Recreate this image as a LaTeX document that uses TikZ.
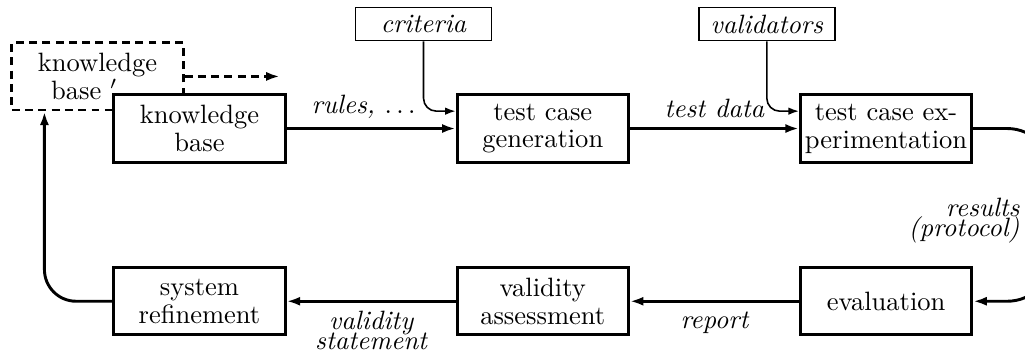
\documentclass[tikz,border=0pt]{standalone}
\usepackage{amsmath,amssymb}
\usetikzlibrary{positioning,arrows.meta}

\begin{document}
\begin{tikzpicture}[
        blk/.style={draw, line width=1.1pt, fill=white,
                    minimum width=2.27cm, minimum height=0.89cm,
                    inner sep=1.5pt, align=center},
        dblk/.style={blk, dash pattern=on 3pt off 2pt},
        src/.style={draw, line width=0.6pt, minimum width=1.8cm,
                    minimum height=0.44cm, inner sep=1pt, font=\itshape},
        arr/.style={-{Latex[length=1.8mm,width=1.2mm]}, line width=1.1pt},
        tarr/.style={-{Latex[length=1.4mm,width=1mm]}, line width=0.6pt,
                     rounded corners=0.17cm},
        lbl/.style={font=\itshape, align=center}
      ]
        \useasboundingbox (-2.643,1.703) rectangle (10.938,-2.975);
        % old knowledge base, behind the current one
        \node[dblk] (kbd) at (-1.35,0.69)
              {knowledge\\[-1.5pt]base\ $'$\hspace*{10pt}};
        \node[blk] (kb) at (0,0) {knowledge\\[-1.5pt]base};
        \node[blk, right=2.24cm of kb] (tcg)
              {test case\\[-1.5pt]generation};
        \node[blk, right=2.24cm of tcg] (tce)
              {test case ex-\\[-1.5pt]perimentation};
        \node[blk, below=1.36cm of tce] (ev) {evaluation};
        \node[blk, below=1.36cm of tcg] (va)
              {validity\\[-1.5pt]assessment};
        \node[blk, below=1.36cm of kb] (sr)
              {system\\[-1.5pt]refinement};
        \node[src, above=0.69cm of tcg, xshift=-1.58cm] (crit) {criteria};
        \node[src, above=0.69cm of tce, xshift=-1.58cm] (val) {validators};
        \coordinate[right=1.26cm of kbd.east] (kbout);
        % main cycle
        \draw[arr] (kb) -- node[lbl, above, xshift=-0.1cm]
              {rules, $\ldots$} (tcg);
        \draw[arr] (tcg) -- node[lbl, above] {test data} (tce);
        \draw[arr, rounded corners=0.6cm] (tce.east) -- ++(1.05,0)
              |- node[lbl, left, pos=0.25, xshift=-0.3cm, yshift=-0.08cm,
                      align=right]
                 {results\\[-4.5pt](protocol)} (ev.east);
        \draw[arr] (ev) -- node[lbl, below] {report} (va);
        \draw[arr] (va) -- node[lbl, below]
              {validity\\[-4.5pt]statement} (sr);
        \draw[arr, rounded corners=0.42cm] (sr.west)
              -| ([xshift=0.45cm]kbd.south west);
        \draw[arr, dash pattern=on 3pt off 2pt] (kbd.east) -- (kbout);
        % inputs
        \draw[tarr] (crit.south) |- ([yshift=0.23cm]tcg.west);
        \draw[tarr] (val.south) |- ([yshift=0.23cm]tce.west);
      \end{tikzpicture}
\end{document}
